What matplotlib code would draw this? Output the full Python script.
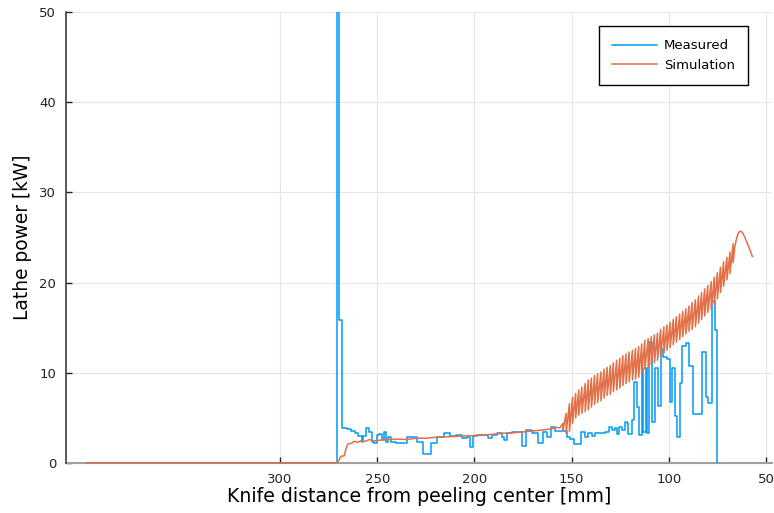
import matplotlib
matplotlib.use("Agg")
import matplotlib.pyplot as plt

plt.rcParams['font.family'] = ['DejaVu Sans']

# measured lathe power, stepwise (start of each step in mm, power in kW)
meas_x = [400.0, 270.7, 269.8, 268.3, 265.7, 263.6, 261.4, 259.7, 258.0, 257.1,
          255.9, 254.2, 252.8, 251.5, 249.9, 248.9, 247.4, 246.5, 245.6, 244.3,
          243.1, 240.3, 234.5, 232.3, 229.4, 226.3, 222.5, 219.1, 215.6, 212.6,
          209.6, 206.5, 204.0, 202.3, 200.6, 198.8, 192.8, 191.1, 188.5, 186.0,
          184.6, 183.4, 180.8, 175.7, 173.6, 170.5, 167.1, 164.6, 162.8, 160.8,
          158.5, 152.2, 150.8, 148.8, 145.3, 143.1, 141.4, 139.7, 138.0, 135.4,
          132.8, 130.6, 129.4, 127.7, 126.5, 125.5, 124.2, 122.5, 121.7, 120.8,
          119.1, 117.9, 116.2, 115.2, 113.9, 113.1, 111.7, 111.1, 110.0, 108.8,
          107.1, 105.4, 104.2, 102.8, 100.8, 99.4, 98.2, 96.8, 95.9, 94.2,
          93.0, 91.3, 89.6, 87.7, 82.8, 81.0, 79.7, 77.9, 76.2, 75.0]
meas_y = [0, 60, 15.85, 3.92, 3.77, 3.59, 3.36, 2.99, 2.37, 2.99,
          3.92, 3.48, 2.37, 2.18, 3.10, 3.21, 2.55, 3.48, 2.37, 2.85,
          2.37, 2.26, 2.85, 2.92, 2.37, 0.96, 2.26, 2.92, 3.36, 2.99,
          3.10, 2.73, 2.92, 1.81, 2.99, 3.10, 2.73, 3.10, 3.36, 2.92,
          2.55, 3.36, 3.48, 1.92, 3.66, 3.29, 2.26, 3.48, 2.92, 4.03,
          3.59, 2.92, 2.63, 2.11, 3.47, 2.92, 3.36, 2.99, 3.29, 3.36,
          3.47, 4.03, 3.66, 3.84, 3.22, 4.03, 3.66, 4.58, 4.40, 3.22,
          4.77, 9.0, 6.24, 3.11, 10.5, 3.47, 10.5, 3.29, 13.45, 4.59,
          10.5, 6.32, 12.6, 11.8, 11.5, 6.8, 10.57, 5.2, 2.9, 8.83,
          13.0, 13.3, 10.8, 5.4, 12.3, 7.35, 6.6, 18.0, 14.8, 0]

# simulation: smooth part before the knife starts chattering
sim_base_x = [400.0, 270.7, 269.5, 268.6, 267.0, 266.0, 265.2, 263.0, 262.0, 260.0,
              258.0, 256.0, 254.0, 252.0, 250.0, 245.0, 240.0, 235.0, 230.0, 225.0,
              220.0, 215.0, 210.0, 205.0, 200.0, 195.0, 190.0, 185.0, 180.0, 175.0,
              170.0, 165.0, 160.0, 157.5]
sim_base_y = [0, 0, 0.4, 0.75, 0.8, 1.6, 2.1, 2.2, 2.4, 2.3,
              2.5, 2.4, 2.6, 2.45, 2.5, 2.6, 2.65, 2.6, 2.75, 2.75,
              2.85, 2.9, 2.95, 3.0, 3.05, 3.1, 3.2, 3.3, 3.35, 3.45,
              3.55, 3.65, 3.8, 3.95]

# simulation: one tooth per revolution (bottom position, bottom value, peak before next bottom)
tooth_x = [156.0, 154.4, 152.8, 151.1, 149.5, 147.9, 146.3, 144.7, 143.0, 141.4,
           139.8, 138.2, 136.6, 134.9, 133.3, 131.7, 130.1, 128.5, 126.8, 125.2,
           123.6, 122.0, 120.4, 118.7, 117.1, 115.5, 113.9, 112.3, 110.6, 109.0,
           107.4, 105.8, 104.2, 102.5, 100.9, 99.3, 97.7, 96.1, 94.4, 92.8,
           91.2, 89.6, 88.0, 86.3, 84.7, 83.1, 81.5, 79.9, 78.2, 76.6,
           75.0, 73.4, 71.8, 70.1, 68.5, 66.9]
tooth_lo = [3.9, 3.66, 3.3, 3.5, 4.4, 5.0, 5.3, 5.5, 5.7, 5.9,
            6.2, 6.5, 6.7, 6.9, 7.2, 7.5, 7.6, 7.9, 8.1, 8.3,
            8.6, 8.8, 9.0, 9.2, 9.3, 9.5, 9.9, 10.4, 10.6, 10.9,
            11.1, 11.4, 11.9, 12.2, 12.5, 12.8, 13.1, 13.4, 13.7, 14.0,
            14.3, 14.6, 14.8, 15.1, 15.5, 15.9, 16.3, 16.7, 17.0, 17.6,
            18.2, 18.9, 19.6, 20.3, 21.0, 22.2]
tooth_hi = [4.4, 5.5, 6.6, 7.3, 7.7, 8.1, 8.4, 8.8, 9.2, 9.4,
            9.7, 9.9, 10.1, 10.4, 10.6, 10.8, 11.1, 11.4, 11.6, 11.9,
            12.1, 12.3, 12.5, 12.7, 12.9, 13.2, 13.6, 13.8, 14.0, 14.2,
            14.4, 14.8, 15.1, 15.3, 15.6, 15.9, 16.2, 16.5, 16.8, 17.1,
            17.4, 17.8, 18.1, 18.5, 18.9, 19.3, 19.7, 20.1, 20.6, 21.1,
            21.7, 22.3, 22.8, 23.4, 24.3]

# simulation: end of the cut
sim_tail_x = [66.0, 65.0, 64.2, 63.4, 62.3, 61.0, 59.5, 58.2, 57.0]
sim_tail_y = [24.0, 25.0, 25.5, 25.7, 25.6, 25.1, 24.3, 23.6, 22.9]

sim_x = list(sim_base_x)
sim_y = list(sim_base_y)
sim_x.append(tooth_x[0])
sim_y.append(tooth_lo[0])
for i in range(1, len(tooth_x)):
    sim_x += [tooth_x[i], tooth_x[i]]
    sim_y += [tooth_hi[i - 1], tooth_lo[i]]
sim_x += sim_tail_x
sim_y += sim_tail_y

blue = '#009af9'
orange = '#e26f46'

fig = plt.figure(figsize=(7.74, 5.13), dpi=100)
ax = fig.add_axes([66 / 774, 50 / 513, 706 / 774, 451 / 513])

ax.step(meas_x, meas_y, where='post', color=blue, lw=1.1, label='Measured', zorder=3)
# the simulation never leaves the y range, so let it sit fully on the x axis line
ax.plot(sim_x, sim_y, color=orange, lw=1.1, label='Simulation', zorder=4, clip_on=False)

ax.set_xlim(410.1, 46.9)
ax.set_ylim(0, 50)
ax.set_xticks([300, 250, 200, 150, 100, 50])
ax.set_yticks([0, 10, 20, 30, 40, 50])
ax.grid(True, color='#e6e6e6', lw=0.8)
ax.set_axisbelow(True)

for side in ('top', 'right'):
    ax.spines[side].set_visible(False)
ax.spines['left'].set_color('#3c3c3c')
ax.spines['left'].set_linewidth(1.2)
ax.spines['bottom'].set_color('#a0a0a0')
ax.spines['bottom'].set_linewidth(1.5)
ax.spines['bottom'].set_zorder(1)
ax.tick_params(direction='in', length=4, width=1, colors='#222222', labelsize=9.5)
ax.tick_params(axis='y', pad=7)
ax.tick_params(axis='x', pad=7)

ax.set_xlabel('Knife distance from peeling center [mm]', fontsize=13.6, labelpad=1)
ax.set_ylabel('Lathe power [kW]', fontsize=13.4, labelpad=5)

leg = ax.legend(loc='upper right', bbox_to_anchor=(0.966, 0.969), borderaxespad=0,
                fontsize=9.5, fancybox=False, framealpha=1, edgecolor='black',
                handlelength=3.4, handletextpad=0.5, borderpad=1.0, labelspacing=0.5)
leg.get_frame().set_linewidth(1.0)

fig.savefig('out.png', dpi=100)
